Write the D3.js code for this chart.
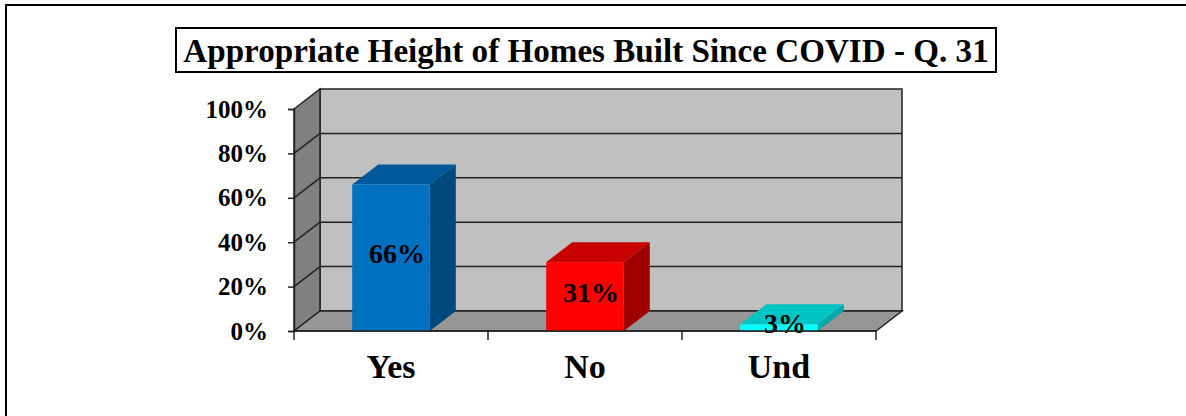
<!DOCTYPE html>
<html>
<head>
<meta charset="utf-8">
<script src="https://cdn.jsdelivr.net/npm/d3@7"></script>
<style>
  body { margin: 0; background: #fff; }
  svg { display: block; }
  text { font-family: "Liberation Serif", "DejaVu Serif", serif; font-weight: bold; }
</style>
</head>
<body>
<svg id="chart" width="1186" height="416"></svg>
<script>
// chart data
const categories = ["Yes", "No", "Und"];
const values = [0.66, 0.31, 0.03];
const valueLabels = ["66%", "31%", "3%"];
const yTicks = [0, 0.2, 0.4, 0.6, 0.8, 1.0];
const titleText = "Appropriate Height of Homes Built Since COVID - Q. 31";

// face colours for each bar: front, top, side
const barColors = [
	{front: "#0070C0", top: "#00589A", side: "#00497E"},
	{front: "#FF0000", top: "#C80000", side: "#A00000"},
	{front: "#00FFFF", top: "#00C4C4", side: "#00A8A8"}
];

const svg = d3.select("#chart");

// depth offset of the 3d box
const dx = 26, dy = -20;

const x = d3.scaleBand()
	.domain(categories)
	.range([294, 876])
	.paddingInner(0.6)
	.paddingOuter(0.3);

const y = d3.scaleLinear()
	.domain([0, 1])
	.range([331, 109]);

const xLeft = x.range()[0], xRight = x.range()[1];
const yBottom = y(0), yTop = y(1);

//Outer frame
svg.append("rect")
	.attr("x", 6).attr("y", 5)
	.attr("width", 1300).attr("height", 600)
	.attr("fill", "none")
	.attr("stroke", "#000")
	.attr("stroke-width", 2);

//Title box
const titleG = svg.append("g");
titleG.append("rect")
	.attr("x", 176).attr("y", 28)
	.attr("width", 820).attr("height", 44)
	.attr("fill", "#fff")
	.attr("stroke", "#000")
	.attr("stroke-width", 2);
const title = titleG.append("text")
	.attr("x", 586).attr("y", 62)
	.attr("text-anchor", "middle")
	.style("font-size", "32px")
	.text(titleText);
// fit the title to the box width
let tw = title.node().getComputedTextLength();
title.style("font-size", (32 * 806 / tw) + "px");

const shape = (pts) => "M" + pts.map(p => p.join(",")).join("L") + "Z";
const wallStroke = "#222";

//Back wall
svg.append("path")
	.attr("d", shape([[xLeft + dx, yTop + dy], [xRight + dx, yTop + dy], [xRight + dx, yBottom + dy], [xLeft + dx, yBottom + dy]]))
	.attr("fill", "#C0C0C0")
	.attr("stroke", wallStroke)
	.attr("stroke-width", 1.5);

//Left wall
svg.append("path")
	.attr("d", shape([[xLeft, yTop], [xLeft + dx, yTop + dy], [xLeft + dx, yBottom + dy], [xLeft, yBottom]]))
	.attr("fill", "#808080")
	.attr("stroke", wallStroke)
	.attr("stroke-width", 1.5);

//Floor
svg.append("path")
	.attr("d", shape([[xLeft, yBottom], [xLeft + dx, yBottom + dy], [xRight + dx, yBottom + dy], [xRight, yBottom]]))
	.attr("fill", "#969696")
	.attr("stroke", wallStroke)
	.attr("stroke-width", 1.5);

//Grid lines
const grid = svg.append("g");
yTicks.filter(v => v > 0 && v < 1).forEach(v => {
	grid.append("line")
		.attr("x1", xLeft + dx).attr("x2", xRight + dx)
		.attr("y1", y(v) + dy).attr("y2", y(v) + dy)
		.attr("stroke", wallStroke).attr("stroke-width", 1.5);
	grid.append("line")
		.attr("x1", xLeft).attr("x2", xLeft + dx)
		.attr("y1", y(v)).attr("y2", y(v) + dy)
		.attr("stroke", wallStroke).attr("stroke-width", 1.5);
});

//Bars
const bars = svg.append("g");
categories.forEach((c, i) => {
	let x0 = x(c), x1 = x(c) + x.bandwidth();
	let yt = y(values[i]);
	let col = barColors[i];
	bars.append("path")
		.attr("d", shape([[x0, yt], [x0 + dx, yt + dy], [x1 + dx, yt + dy], [x1, yt]]))
		.attr("fill", col.top);
	bars.append("path")
		.attr("d", shape([[x1, yt], [x1 + dx, yt + dy], [x1 + dx, yBottom + dy], [x1, yBottom]]))
		.attr("fill", col.side);
	bars.append("rect")
		.attr("x", x0).attr("y", yt)
		.attr("width", x.bandwidth())
		.attr("height", yBottom - yt)
		.attr("fill", col.front);
});

//Value labels
svg.append("g").selectAll("text")
	.data(categories)
	.join("text")
	.attr("x", (d, i) => x(d) + x.bandwidth() / 2 + 6)
	.attr("y", (d, i) => (y(values[i]) + yBottom) / 2 + 5)
	.attr("text-anchor", "middle")
	.style("font-size", "28px")
	.attr("fill", "#000")
	.text((d, i) => valueLabels[i]);

//Y axis
const yAxis = svg.append("g")
	.attr("transform", "translate(" + xLeft + ",0)")
	.call(d3.axisLeft(y).tickValues(yTicks).tickFormat(d3.format(".0%")).tickSize(6).tickPadding(20));
yAxis.select(".domain").attr("stroke", wallStroke).attr("stroke-width", 1.5);
yAxis.selectAll(".tick line").attr("stroke", wallStroke).attr("stroke-width", 1.5);
yAxis.selectAll("text")
	.style("font-size", "25px")
	.style("font-family", "Liberation Serif, serif")
	.style("font-weight", "bold")
	.attr("fill", "#000");

//X axis
const xAxis = svg.append("g")
	.attr("transform", "translate(0," + yBottom + ")")
	.call(d3.axisBottom(x).tickSize(0));
xAxis.select(".domain").remove();
xAxis.selectAll("text")
	.attr("y", 47).attr("dy", 0)
	.style("font-size", "34px")
	.style("font-family", "Liberation Serif, serif")
	.style("font-weight", "bold")
	.attr("fill", "#000");
xAxis.append("line")
	.attr("x1", xLeft).attr("x2", xRight)
	.attr("y1", 0).attr("y2", 0)
	.attr("stroke", wallStroke).attr("stroke-width", 1.5);
// ticks on the band edges
const edges = d3.range(categories.length + 1).map(k => xLeft + k * (xRight - xLeft) / categories.length);
xAxis.selectAll(".edge")
	.data(edges)
	.join("line")
	.attr("class", "edge")
	.attr("x1", d => d).attr("x2", d => d)
	.attr("y1", 0).attr("y2", 9)
	.attr("stroke", wallStroke).attr("stroke-width", 1.5);
</script>
</body>
</html>
